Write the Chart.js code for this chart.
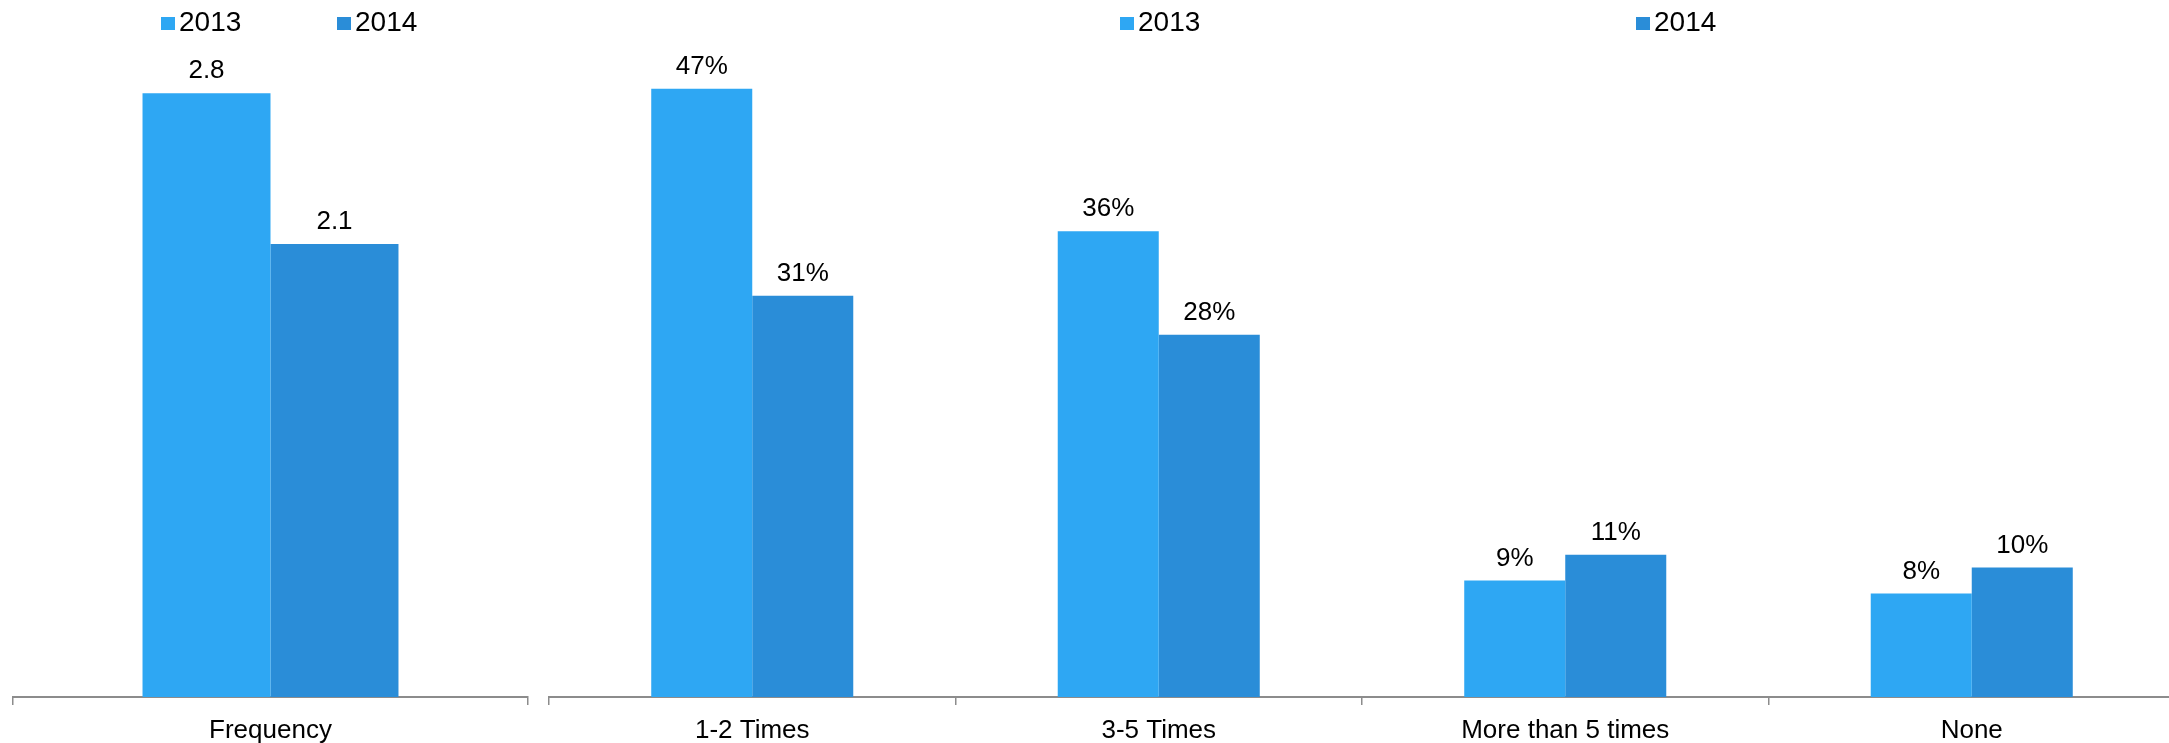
<!DOCTYPE html>
<html>
<head>
<meta charset="utf-8">
<script src="https://cdn.jsdelivr.net/npm/chart.js@4.4.1/dist/chart.umd.min.js"></script>
<style>
  html, body { margin: 0; padding: 0; background: #fff; width: 2169px; height: 743px; overflow: hidden; }
  canvas { position: absolute; top: 0; }
  #freq { left: 0; }
  #times { left: 540px; }
</style>
</head>
<body>
<canvas id="freq" width="545" height="743"></canvas>
<canvas id="times" width="1640" height="743"></canvas>
<script>
// data
const years = ["2013", "2014"];
const freqCategories = ["Frequency"];
const freq2013 = [2.8];
const freq2014 = [2.1];
const timesCategories = ["1-2 Times", "3-5 Times", "More than 5 times", "None"];
const times2013 = [47, 36, 9, 8];
const times2014 = [31, 28, 11, 10];

const COLORS = ["#2ea7f3", "#2a8dd8"];
const FONT = "'Liberation Sans', Arial, sans-serif";
const AXIS_GRAY = "#8c8c8c";

// value labels above each bar
const valueLabels = {
  id: "valueLabels",
  afterDatasetsDraw(chart, args, opts) {
    const ctx = chart.ctx;
    ctx.save();
    ctx.font = `26px ${FONT}`;
    ctx.fillStyle = "#000";
    ctx.textAlign = "center";
    ctx.textBaseline = "middle";
    chart.data.datasets.forEach((ds, i) => {
      chart.getDatasetMeta(i).data.forEach((bar, j) => {
        ctx.fillText(opts.format(ds.data[j]), bar.x, bar.y - 22);
      });
    });
    ctx.restore();
  },
};

// legend drawn at fixed spots like the original slide
const spreadLegend = {
  id: "spreadLegend",
  afterDraw(chart, args, opts) {
    const ctx = chart.ctx;
    ctx.save();
    ctx.font = `28px ${FONT}`;
    ctx.textBaseline = "middle";
    ctx.textAlign = "left";
    chart.data.datasets.forEach((ds, i) => {
      const x = opts.xs[i];
      ctx.fillStyle = ds.backgroundColor;
      ctx.fillRect(x, 17, 14, 13);
      ctx.fillStyle = "#000";
      ctx.fillText(ds.label, x + 18, 23);
    });
    ctx.restore();
  },
};

function makeChart(el, labels, a, b, max, fmt, pad, legendXs) {
  return new Chart(el.getContext("2d"), {
    type: "bar",
    data: {
      labels,
      datasets: [
        { label: years[0], data: a, backgroundColor: COLORS[0] },
        { label: years[1], data: b, backgroundColor: COLORS[1] },
      ],
    },
    options: {
      responsive: false,
      animation: false,
      layout: { padding: { top: 50, bottom: 0, left: pad.left, right: pad.right } },
      datasets: { bar: { categoryPercentage: 0.497, barPercentage: 1 } },
      scales: {
        x: {
          grid: { display: true, offset: true, drawOnChartArea: false, color: AXIS_GRAY, lineWidth: 1.5, tickLength: 8 },
          border: { color: AXIS_GRAY, width: 2 },
          ticks: { color: "#000", font: { family: FONT, size: 26 }, padding: 10, maxRotation: 0 },
          afterFit: (scale) => { scale.height = 46; },
        },
        y: { display: false, min: 0, max },
      },
      plugins: {
        legend: { display: false },
        tooltip: { enabled: false },
        valueLabels: { format: fmt },
        spreadLegend: { xs: legendXs },
      },
    },
    plugins: [valueLabels, spreadLegend],
  });
}

makeChart(document.getElementById("freq"), freqCategories, freq2013, freq2014, 3,
  (v) => v.toFixed(1), { left: 13, right: 17 }, [161, 337]);

makeChart(document.getElementById("times"), timesCategories, times2013, times2014, 50,
  (v) => `${v}%`, { left: 9, right: 5 }, [580, 1096]);
</script>
</body>
</html>
